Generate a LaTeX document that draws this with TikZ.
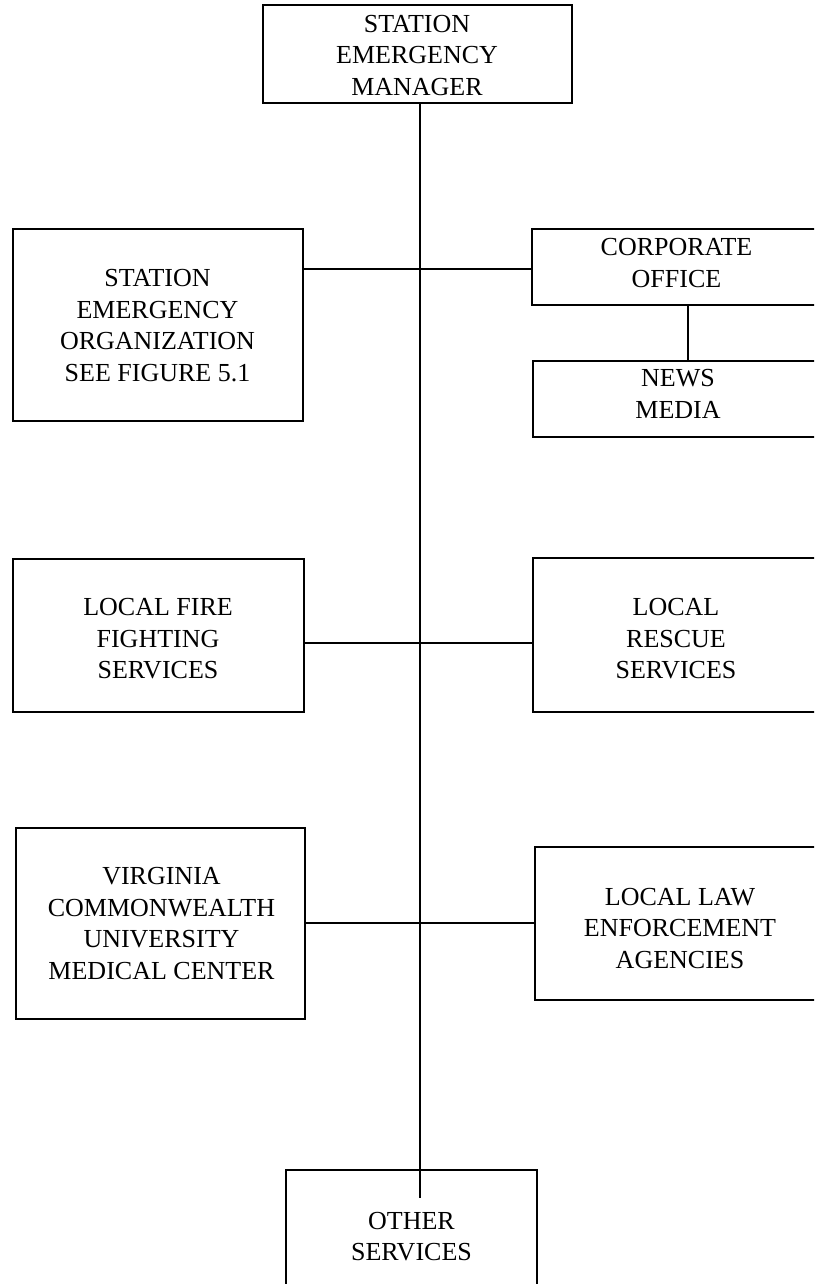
\documentclass[tikz,border=0pt]{standalone}
\usepackage{fontspec}
\setmainfont{Liberation Serif}
\begin{document}
\begin{tikzpicture}[x=1pt,y=-1pt,
  box/.style={draw=black,line width=2pt,inner sep=0pt,outer sep=0pt,rectangle},
  boxtext/.style={align=center,inner sep=0pt,font=\fontsize{26}{31.5}\selectfont},
  link/.style={draw=black,line width=1.8pt}]
\useasboundingbox (0,0) rectangle (814,1284);
\clip (0,0) rectangle (814,1284);
\fill[white] (0,0) rectangle (814,1284);

% boxes
\node[box,minimum width=309pt,minimum height=98pt] (mgr) at (417.5,54) {};
\node[box,minimum width=290pt,minimum height=192pt] (seo) at (158,325) {};
\node[box,minimum width=298pt,minimum height=76pt] (corp) at (681,267) {};
\node[box,minimum width=297pt,minimum height=76pt] (news) at (681.5,399) {};
\node[box,minimum width=291pt,minimum height=153pt] (fire) at (158.5,635.5) {};
\node[box,minimum width=297pt,minimum height=154pt] (rescue) at (681.5,635) {};
\node[box,minimum width=289pt,minimum height=191pt] (vcu) at (160.5,923.5) {};
\node[box,minimum width=295pt,minimum height=153pt] (law) at (682.5,923.5) {};
\node[box,minimum width=251pt,minimum height=150pt] (other) at (411.5,1245) {};

% labels
\node[boxtext] (mgrT) at (417,55.5) {STATION\\EMERGENCY\\MANAGER};
\node[boxtext] (seoT) at (157.5,325.5) {STATION\\EMERGENCY\\ORGANIZATION\\SEE FIGURE 5.1};
\node[boxtext] (corpT) at (676.5,263) {CORPORATE\\OFFICE};
\node[boxtext] (newsT) at (678,394) {NEWS\\MEDIA};
\node[boxtext] (fireT) at (158,639) {LOCAL FIRE\\FIGHTING\\SERVICES};
\node[boxtext] (rescueT) at (676,639) {LOCAL\\RESCUE\\SERVICES};
\node[boxtext] (vcuT) at (161.5,923.5) {VIRGINIA\\COMMONWEALTH\\UNIVERSITY\\MEDICAL CENTER};
\node[boxtext] (lawT) at (680,928.5) {LOCAL LAW\\ENFORCEMENT\\AGENCIES};
\node[boxtext] (otherT) at (411.5,1236.5) {OTHER\\SERVICES};

% connector reference points
\coordinate (spineEnd) at (420,1198);
\coordinate (row1) at (0,269);
\coordinate (row2) at (0,643);
\coordinate (row3) at (0,923);
\coordinate (newsCol) at (688,0);

% connectors
\draw[link] (mgr.south -| spineEnd) -- (spineEnd);
\draw[link] (seo.east |- row1) -- (corp.west |- row1);
\draw[link] (corp.south -| newsCol) -- (news.north -| newsCol);
\draw[link] (fire.east |- row2) -- (rescue.west |- row2);
\draw[link] (vcu.east |- row3) -- (law.west |- row3);
\end{tikzpicture}
\end{document}
